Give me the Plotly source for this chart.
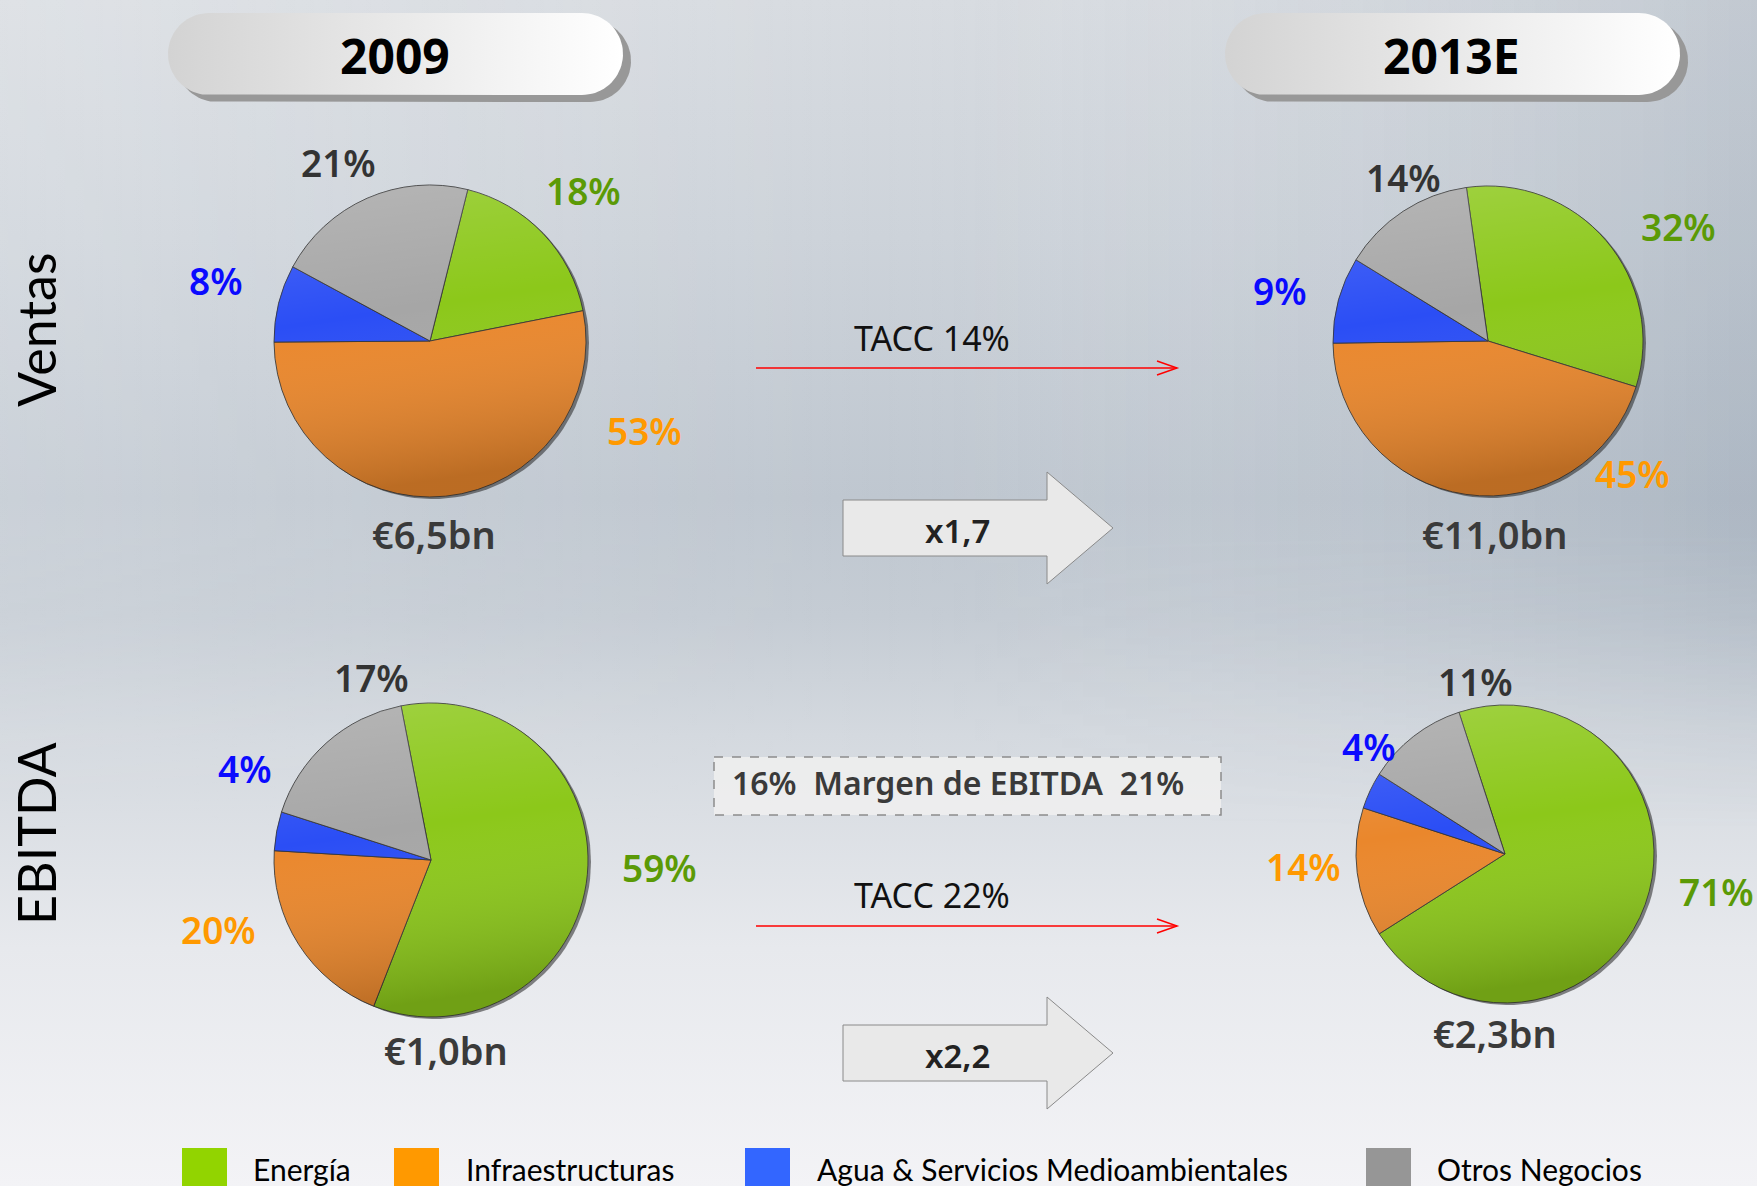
import base64
import numpy as np
import plotly.graph_objects as go

W, H = 1757, 1186

# ---- data -------------------------------------------------------------
segments = ["Energía", "Infraestructuras", "Agua & Servicios Medioambientales", "Otros Negocios"]

ventas_2009 = [18, 53, 8, 21]
ventas_2013e = [32, 45, 9, 14]
ebitda_2009 = [59, 20, 4, 17]
ebitda_2013e = [71, 14, 4, 11]

totals = ["€6,5bn", "€11,0bn", "€1,0bn", "€2,3bn"]
years = ["2009", "2013E"]
rows = ["Ventas", "EBITDA"]
tacc_labels = ["TACC 14%", "TACC 22%"]
multiples = ["x1,7", "x2,2"]
margin_text = "16%\u00a0\u00a0Margen de EBITDA\u00a0\u00a021%"

# ---- styles -----------------------------------------------------------
slice_colors = ["#8cc81a", "#ea872c", "#2b4ef5", "#a6a6a6"]
legend_colors = ["#92d400", "#ff9900", "#3366ff", "#969696"]
label_colors = ["#5b9a06", "#ff9900", "#0a0aff", "#333333"]

BOLD = "Noto Sans"
CAL = "Lato"

# pie placement (pixel centre, radius, start angle) and label anchors
pies = [
    dict(values=ventas_2009, c=(430, 341), r=156, rot=14,
         lab=[(583, 190), (644, 430), (216, 280), (338, 162)], tot=(434, 534)),
    dict(values=ventas_2013e, c=(1488, 341), r=155, rot=-8,
         lab=[(1678, 226), (1632, 473), (1280, 290), (1403, 177)], tot=(1495, 534)),
    dict(values=ebitda_2009, c=(431, 860), r=157, rot=-11,
         lab=[(659, 867), (218, 929), (245, 768), (371, 677)], tot=(446, 1050)),
    dict(values=ebitda_2013e, c=(1505, 854), r=149, rot=-18,
         lab=[(1716, 891), (1303, 866), (1369, 746), (1475, 681)], tot=(1495, 1033)),
]

fig = go.Figure()


def svg_uri(svg):
    return "data:image/svg+xml;base64," + base64.b64encode(svg.encode("utf-8")).decode("ascii")


# page background gradient
bg_svg = f"""<svg xmlns="http://www.w3.org/2000/svg" width="{W}" height="{H}" viewBox="0 0 {W} {H}" preserveAspectRatio="none">
<defs>
<linearGradient id="v" x1="0" y1="0" x2="0" y2="1">
<stop offset="0" stop-color="#d8dce1"/>
<stop offset="0.2" stop-color="#cdd3da"/>
<stop offset="0.42" stop-color="#bfc7d0"/>
<stop offset="0.52" stop-color="#c5ccd4"/>
<stop offset="0.62" stop-color="#d4d9df"/>
<stop offset="0.8" stop-color="#e7e9ed"/>
<stop offset="1" stop-color="#f3f3f6"/>
</linearGradient>
<linearGradient id="h" x1="0" y1="0" x2="1" y2="0">
<stop offset="0" stop-color="#ffffff" stop-opacity="0.18"/>
<stop offset="0.5" stop-color="#ffffff" stop-opacity="0"/>
<stop offset="1" stop-color="#4f6680" stop-opacity="0.16"/>
</linearGradient>
<linearGradient id="fade" x1="0" y1="0" x2="0" y2="1">
<stop offset="0" stop-color="#fff" stop-opacity="1"/>
<stop offset="0.45" stop-color="#fff" stop-opacity="1"/>
<stop offset="0.7" stop-color="#fff" stop-opacity="0"/>
</linearGradient>
<mask id="m"><rect width="{W}" height="{H}" fill="url(#fade)"/></mask>
</defs>
<rect width="{W}" height="{H}" fill="url(#v)"/>
<rect width="{W}" height="{H}" fill="url(#h)" mask="url(#m)"/>
</svg>"""

# soft shading laid over the pies (lighter top, darker bottom)
shade_circles = "".join(
    f'<circle cx="{p["c"][0]}" cy="{p["c"][1]}" r="{p["r"]}" fill="url(#s)"/>' for p in pies
)
shade_svg = f"""<svg xmlns="http://www.w3.org/2000/svg" width="{W}" height="{H}" viewBox="0 0 {W} {H}" preserveAspectRatio="none">
<defs>
<linearGradient id="s" x1="0" y1="0" x2="0.15" y2="1">
<stop offset="0" stop-color="#ffffff" stop-opacity="0.18"/>
<stop offset="0.45" stop-color="#ffffff" stop-opacity="0"/>
<stop offset="1" stop-color="#000000" stop-opacity="0.2"/>
</linearGradient>
</defs>
{shade_circles}
</svg>"""

# ---- decorative geometry in pixel space ----------------------------------
def pill(x0, x1, y0, y1, n=40):
    r = (y1 - y0) / 2
    yc = (y0 + y1) / 2
    t1 = np.linspace(-np.pi / 2, np.pi / 2, n)
    t2 = np.linspace(np.pi / 2, 3 * np.pi / 2, n)
    xs = np.concatenate([x1 - r + r * np.cos(t1), x0 + r + r * np.cos(t2)])
    ys = np.concatenate([yc + r * np.sin(t1), yc + r * np.sin(t2)])
    return list(xs) + [xs[0]], list(ys) + [ys[0]]


def circle(cx, cy, r, n=120):
    t = np.linspace(0, 2 * np.pi, n)
    return list(cx + r * np.cos(t)), list(cy + r * np.sin(t))


# header pills with drop shadow
header_boxes = [(168, 623, 13, 95), (1225, 1680, 13, 95)]
header_text_x = [395, 1451]
for (x0, x1, y0, y1) in header_boxes:
    sx, sy = pill(x0 + 8, x1 + 8, y0 + 7, y1 + 7)
    fig.add_trace(go.Scatter(x=sx, y=sy, mode="lines", fill="toself", fillcolor="#989898",
                             line=dict(width=0), hoverinfo="skip", showlegend=False))
    px_, py_ = pill(x0, x1, y0, y1)
    fig.add_trace(go.Scatter(x=px_, y=py_, mode="lines", fill="toself",
                             fillgradient=dict(type="horizontal",
                                               colorscale=[[0, "#d3d3d3"], [1, "#ffffff"]]),
                             line=dict(width=0), hoverinfo="skip", showlegend=False))

# dark rim under each pie
for p in pies:
    cx, cy = p["c"]
    sx, sy = circle(cx + 3, cy + 2, p["r"])
    fig.add_trace(go.Scatter(x=sx, y=sy, mode="lines", fill="toself",
                             fillcolor="rgba(35,35,35,0.55)", line=dict(width=0),
                             hoverinfo="skip", showlegend=False))

# block arrows carrying the growth multiples
arrow_rows = [(500, 556, 472, 584, 528), (1025, 1081, 997, 1109, 1053)]
for (bt, bb, ht, hb, tip) in arrow_rows:
    ax = [843, 1047, 1047, 1113, 1047, 1047, 843, 843]
    ay = [bt, bt, ht, tip, hb, bb, bb, bt]
    fig.add_trace(go.Scatter(x=ax, y=ay, mode="lines", fill="toself", fillcolor="#e9e9e9",
                             line=dict(color="#8a8a8a", width=1), hoverinfo="skip",
                             showlegend=False))

# ---- pies -------------------------------------------------------------
for p in pies:
    cx, cy = p["c"]
    r = p["r"]
    fig.add_trace(go.Pie(
        values=p["values"], labels=segments, sort=False, direction="clockwise",
        rotation=p["rot"], textinfo="none", hoverinfo="label+percent",
        marker=dict(colors=slice_colors, line=dict(color="rgba(50,50,50,0.85)", width=1)),
        domain=dict(x=[(cx - r) / W, (cx + r) / W], y=[1 - (cy + r) / H, 1 - (cy - r) / H]),
        showlegend=False,
    ))

# ---- annotations --------------------------------------------------------
ann = []
for txt, x in zip(years, header_text_x):
    ann.append(dict(x=x, y=55, text=txt, font=dict(family=BOLD, size=48, color="#000000", weight="bold")))

for txt, y in zip(rows, [330, 834]):
    ann.append(dict(x=36, y=y, text=txt, textangle=-90, font=dict(family=CAL, size=52, color="#000000")))

for p, tot in zip(pies, totals):
    for v, (lx, ly), col in zip(p["values"], p["lab"], label_colors):
        ann.append(dict(x=lx, y=ly, text=f"{v}%", font=dict(family=BOLD, size=37, color=col, weight=600)))
    ann.append(dict(x=p["tot"][0], y=p["tot"][1], text=tot,
                    font=dict(family=BOLD, size=38, color="#3a3a3a", weight=600)))

for txt, y in zip(tacc_labels, [338, 895]):
    ann.append(dict(x=932, y=y, text=txt, font=dict(family=BOLD, size=34, color="#111111")))

for txt, y in zip(multiples, [530, 1055]):
    ann.append(dict(x=957, y=y, text=txt, font=dict(family=BOLD, size=33, color="#222222", weight=600)))

ann.append(dict(x=958, y=782, text=margin_text, font=dict(family=BOLD, size=32, color="#3a3a3a", weight=600)))

# legend
legend_sq_x = [182, 394, 745, 1366]
legend_txt_x = [251, 464, 815, 1435]
shapes = []
for name, col, sx, tx in zip(segments, legend_colors, legend_sq_x, legend_txt_x):
    shapes.append(dict(type="rect", xref="x", yref="y", x0=sx, x1=sx + 45, y0=1148, y1=1192,
                       fillcolor=col, line=dict(width=0), layer="above"))
    ann.append(dict(x=tx, y=1169, text=name, xanchor="left",
                    font=dict(family=CAL, size=30, color="#000000")))

for a in ann:
    a.setdefault("xref", "x")
    a.setdefault("yref", "y")
    a.setdefault("showarrow", False)
    a.setdefault("xanchor", "center")
    a.setdefault("yanchor", "middle")

# red growth lines with open arrowheads
for y in [368, 926]:
    shapes.append(dict(type="line", xref="x", yref="y", x0=756, x1=1177, y0=y, y1=y,
                       line=dict(color="#ff0000", width=1.5), layer="above"))
    shapes.append(dict(type="path", xref="x", yref="y",
                       path=f"M 1157 {y - 7} L 1177 {y} L 1157 {y + 7}",
                       line=dict(color="#ff0000", width=1.5), fillcolor="rgba(0,0,0,0)",
                       layer="above"))

# dashed margin box
shapes.append(dict(type="rect", xref="x", yref="y", x0=714, x1=1221, y0=757, y1=815,
                   fillcolor="rgba(238,238,238,0.9)", line=dict(color="#8c8c8c", width=1.5, dash="dash"),
                   layer="below"))

fig.update_layout(
    width=W, height=H,
    margin=dict(l=0, r=0, t=0, b=0),
    paper_bgcolor="#dfe2e6",
    plot_bgcolor="rgba(0,0,0,0)",
    xaxis=dict(range=[0, W], visible=False, domain=[0, 1], fixedrange=True),
    yaxis=dict(range=[H, 0], visible=False, domain=[0, 1], fixedrange=True),
    annotations=ann,
    shapes=shapes,
    images=[
        dict(source=svg_uri(bg_svg), xref="paper", yref="paper", x=0, y=1, sizex=1, sizey=1,
             sizing="stretch", xanchor="left", yanchor="top", layer="below"),
        dict(source=svg_uri(shade_svg), xref="paper", yref="paper", x=0, y=1, sizex=1, sizey=1,
             sizing="stretch", xanchor="left", yanchor="top", layer="above"),
    ],
    showlegend=False,
)

fig.write_html("out.html")
